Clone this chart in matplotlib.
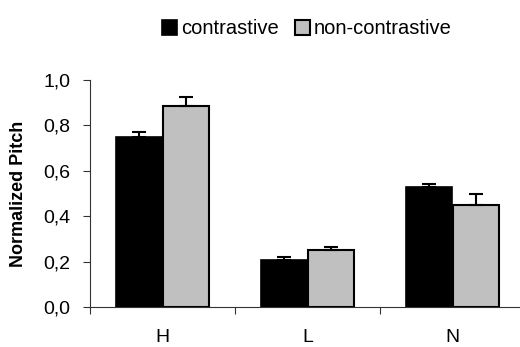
import numpy as np
import matplotlib
matplotlib.use("Agg")
import matplotlib.pyplot as plt
from matplotlib.ticker import FixedLocator, FuncFormatter

# === DATA ===
categories = ["H", "L", "N"]
contrastive = [0.75, 0.207, 0.53]
contrastive_err = [0.02, 0.013, 0.012]
non_contrastive = [0.885, 0.25, 0.45]
non_contrastive_err = [0.041, 0.016, 0.05]
series_labels = ["contrastive", "non-contrastive"]

plt.rcParams['font.family'] = ['Liberation Sans', 'DejaVu Sans']

fig = plt.figure(figsize=(5.2, 3.47), dpi=100)
# axes spans x 90..525 px, y 80..307 px (top-down)
ax = fig.add_axes([90 / 520, (347 - 307) / 347, 435 / 520, 227 / 347])

x = np.arange(len(categories)) + 0.5
w = 0.32
err_kw = dict(ecolor='black', elinewidth=1.5, capsize=5, capthick=1.5)
ax.bar(x - w / 2, contrastive, w, yerr=[np.zeros(3), contrastive_err],
       color='black', edgecolor='black', linewidth=1.2, label=series_labels[0],
       error_kw=err_kw, zorder=2)
ax.bar(x + w / 2, non_contrastive, w, yerr=[np.zeros(3), non_contrastive_err],
       color='#c0c0c0', edgecolor='black', linewidth=1.5, label=series_labels[1],
       error_kw=err_kw, zorder=2)

ax.set_xlim(0, 3)
ax.set_ylim(0, 1.0)
ax.yaxis.set_major_locator(FixedLocator([0, 0.2, 0.4, 0.6, 0.8, 1.0]))
ax.yaxis.set_major_formatter(FuncFormatter(lambda v, p: f"{v:.1f}".replace('.', ',')))
ax.set_xticks([0, 1, 2, 3])
ax.set_xticklabels([])
ax.set_xticks(x, minor=True)
ax.set_xticklabels(categories, minor=True)
ax.tick_params(axis='x', which='minor', length=0, pad=16, labelsize=14)
ax.tick_params(axis='x', which='major', direction='out', length=5, width=0.8, color='#333333')
ax.tick_params(axis='y', direction='out', length=5, width=0.8, labelsize=14, pad=9, color='#333333')

for s in ['top', 'right']:
    ax.spines[s].set_visible(False)
for s in ['left', 'bottom']:
    ax.spines[s].set_color('#333333')
    ax.spines[s].set_linewidth(0.8)

ax.set_ylabel('Normalized Pitch', fontsize=13, fontweight='bold', labelpad=12)

fig.legend(loc='upper center', bbox_to_anchor=(0.59, 0.985), ncol=2, frameon=False,
           fontsize=14.5, handlelength=0.75, handleheight=0.75, handletextpad=0.2,
           columnspacing=0.8, borderpad=0.2)

fig.savefig('out.png', dpi=100)
